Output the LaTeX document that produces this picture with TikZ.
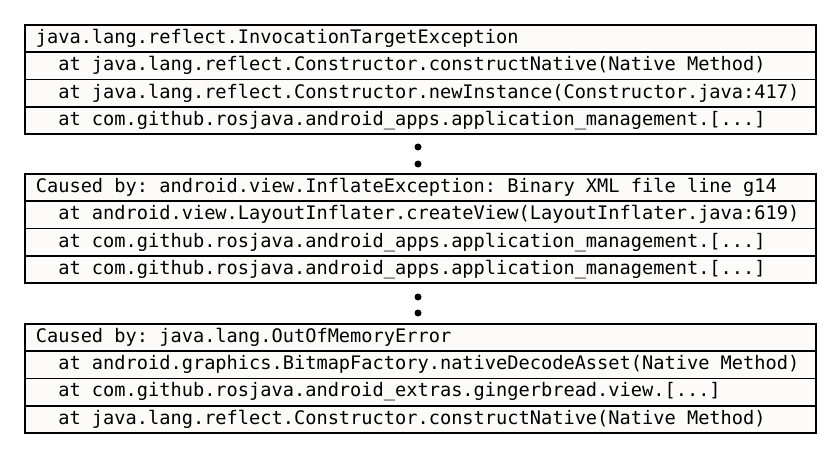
\documentclass[tikz,border=0pt]{standalone}
\usepackage{fontspec}
\setmonofont[WordSpace={1,0,0}]{DejaVu Sans Mono}
\definecolor{rowfill}{RGB}{253,250,250}
\tikzset{
  row/.style={draw=black, line width=1.7pt, fill=rowfill, anchor=north west,
    minimum width=791pt, minimum height=27.3pt,
    inner xsep=11pt, inner ysep=0pt,
    font=\ttfamily\fontsize{18.65}{22}\selectfont},
  dotmark/.style={circle, fill=black, inner sep=0pt, minimum size=7pt}
}
\newcommand{\ind}{\phantom{xx}}
\newcommand{\rowtext}[1]{\makebox[769pt][l]{#1}}
\begin{document}
\begin{tikzpicture}[x=1pt,y=-1pt]
\useasboundingbox (0,0) rectangle (839,455);
% box 1
\node[row] (a1) at (24,24) {\rowtext{java.lang.reflect.InvocationTargetException}};
\node[row] (a2) at (24,51.3) {\rowtext{\ind at java.lang.reflect.Constructor.constructNative(Native Method)}};
\node[row] (a3) at (24,78.6) {\rowtext{\ind at java.lang.reflect.Constructor.newInstance(Constructor.java:417)}};
\node[row] (a4) at (24,105.9) {\rowtext{\ind at com.github.rosjava.android\_apps.application\_management.[...]}};
\node[dotmark] (d1) at (418,147) {};
\node[dotmark] (d2) at (418,164) {};
% box 2
\node[row] (b1) at (24,173) {\rowtext{Caused by: android.view.InflateException: Binary XML file line g14}};
\node[row] (b2) at (24,200.3) {\rowtext{\ind at android.view.LayoutInflater.createView(LayoutInflater.java:619)}};
\node[row] (b3) at (24,227.6) {\rowtext{\ind at com.github.rosjava.android\_apps.application\_management.[...]}};
\node[row] (b4) at (24,254.9) {\rowtext{\ind at com.github.rosjava.android\_apps.application\_management.[...]}};
\node[dotmark] (d3) at (418,297) {};
\node[dotmark] (d4) at (418,313) {};
% box 3
\node[row] (c1) at (24,323) {\rowtext{Caused by: java.lang.OutOfMemoryError}};
\node[row] (c2) at (24,350.3) {\rowtext{\ind at android.graphics.BitmapFactory.nativeDecodeAsset(Native Method)}};
\node[row] (c3) at (24,377.6) {\rowtext{\ind at com.github.rosjava.android\_extras.gingerbread.view.[...]}};
\node[row] (c4) at (24,404.9) {\rowtext{\ind at java.lang.reflect.Constructor.constructNative(Native Method)}};
\end{tikzpicture}
\end{document}
